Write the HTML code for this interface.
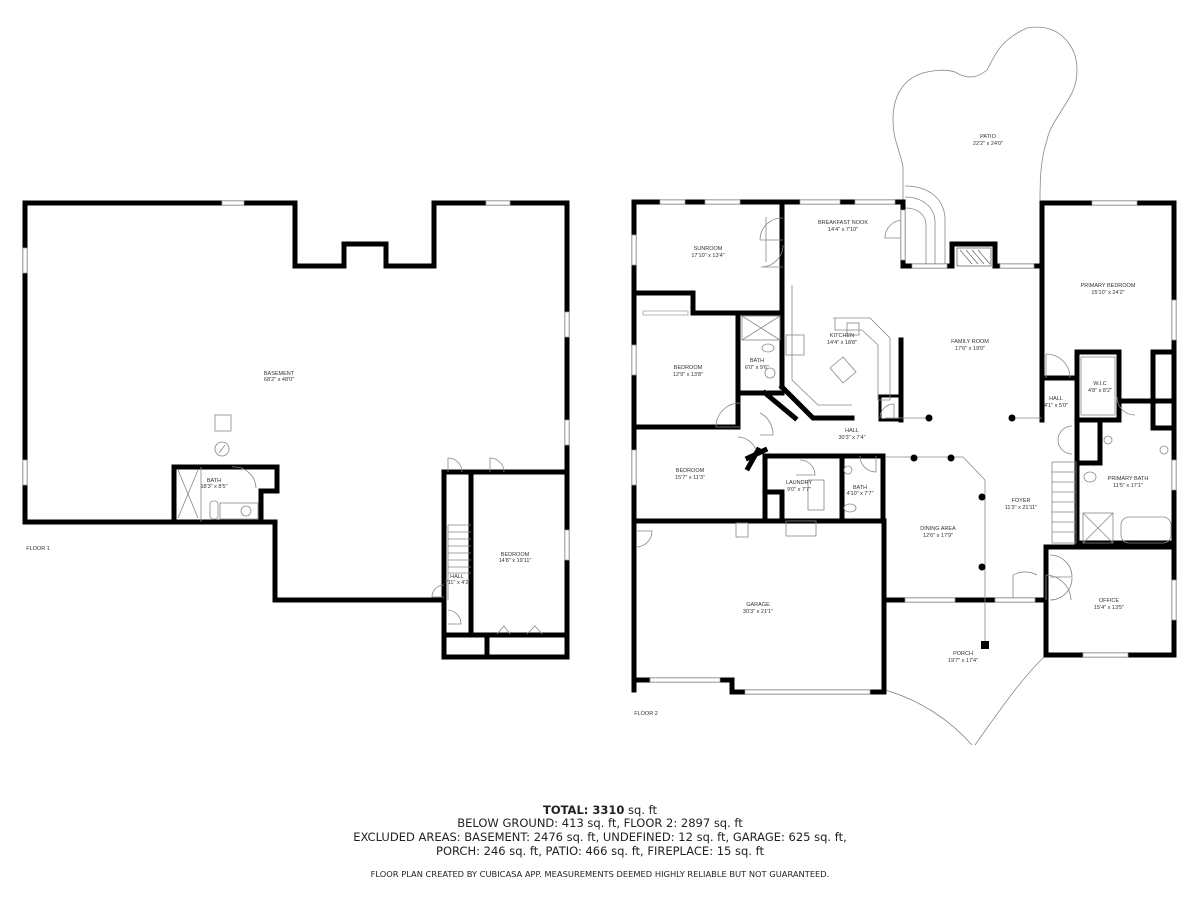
<!DOCTYPE html>
<html><head><meta charset="utf-8"><style>
html,body{margin:0;padding:0;background:#fff}
svg{display:block}
.w{fill:none;stroke:#000;stroke-width:5;stroke-linejoin:miter;stroke-linecap:square}
.t{fill:none;stroke:#888;stroke-width:0.8}
.l{font-family:"Liberation Sans",sans-serif;font-size:5.5px;fill:#333;text-anchor:middle}
.win{fill:#fff;stroke:#999;stroke-width:0.7}
.dot{fill:#000}
</style></head><body>
<svg width="1200" height="900" viewBox="0 0 1200 900" xmlns="http://www.w3.org/2000/svg">
<!-- FLOOR 1 -->
<polyline class="w" points="25,522 25,203 295,203 295,266 344,266 344,244 386,244 386,266 434,266 434,203 567,203 567,472"/>
<polyline class="w" points="25,522 275,522 275,600 444,600"/>
<rect class="w" x="444" y="472" width="123" height="185"/>
<line class="w" x1="471" y1="472" x2="471" y2="634"/>
<line class="w" x1="444" y1="635" x2="567" y2="635"/>
<line class="w" x1="487" y1="635" x2="487" y2="657"/>
<polyline class="w" points="174,522 174,467 277,467 277,491 261,491 261,522"/>
<line class="t" x1="201" y1="467" x2="201" y2="522"/>
<line class="t" x1="178" y1="470" x2="198" y2="518"/><line class="t" x1="198" y1="470" x2="178" y2="518"/>
<rect class="t" x="215" y="415" width="16" height="16"/>
<circle class="t" cx="222" cy="449" r="7"/>
<line class="t" x1="219" y1="453" x2="225" y2="445"/>
<rect class="t" x="210" y="501" width="8" height="18" rx="3"/>
<rect class="t" x="220" y="503" width="38" height="16"/>
<circle class="t" cx="246" cy="511" r="5"/>
<path class="t" d="M232,467 A22,22 0 0 1 256,488"/>
<path class="t" d="M448,472 L448,458 A14,14 0 0 1 462,472"/>
<path class="t" d="M490,472 L490,458 A14,14 0 0 1 504,472"/>
<g class="t"><line x1="448" y1="525" x2="471" y2="525"/>
<line x1="448" y1="532" x2="471" y2="532"/><line x1="448" y1="539" x2="471" y2="539"/><line x1="448" y1="546" x2="471" y2="546"/><line x1="448" y1="553" x2="471" y2="553"/><line x1="448" y1="560" x2="471" y2="560"/><line x1="448" y1="567" x2="471" y2="567"/><line x1="448" y1="573" x2="471" y2="573"/><line x1="448" y1="525" x2="448" y2="600"/></g>
<path class="t" d="M444,597 L432,597 A12,12 0 0 1 444,585"/>
<path class="t" d="M448,610 A14,14 0 0 1 461,624 L448,624"/>
<path class="t" d="M497,634 L504,626 L510,634 M527,634 L535,626 L542,634"/>
<g class="win"><rect x="222" y="201" width="22" height="4"/><rect x="486" y="201" width="24" height="4"/><rect x="23" y="248" width="4" height="25"/><rect x="23" y="460" width="4" height="25"/><rect x="565" y="312" width="4" height="25"/><rect x="565" y="420" width="4" height="25"/><rect x="565" y="530" width="4" height="30"/></g>
<text class="l" x="279" y="375">BASEMENT</text><text class="l" x="279" y="381">68'2" x 48'0"</text>
<text class="l" x="214" y="482">BATH</text><text class="l" x="214" y="488">18'3" x 8'5"</text>
<text class="l" x="515" y="556">BEDROOM</text><text class="l" x="515" y="562">14'8" x 19'11"</text>
<text class="l" x="457" y="578">HALL</text><text class="l" x="457" y="584">2'11" x 4'2"</text>
<text class="l" x="38" y="550">FLOOR 1</text>

<!-- PATIO -->
<path class="t" d="M903,200 L903,167 C900,150 893,140 893,120 C893,100 900,80 923,73 C935,70 945,69 955,72 C965,78 975,80 987,70 C995,55 1000,40 1027,28 C1045,25 1060,30 1070,45 C1080,60 1078,80 1072,93 C1060,115 1050,125 1047,140 C1042,155 1040,170 1040,200"/>
<path class="t" d="M905,186 C930,186 945,200 945,220 L945,265 M905,197 C922,197 935,207 935,222 L935,265 M905,208 C918,208 926,215 926,225 L926,265"/>
<!-- PORCH curves -->
<path class="t" d="M885,690 C920,700 950,720 972,745"/>
<path class="t" d="M1046,655 C1020,680 1000,710 975,745"/>

<!-- FLOOR 2 walls -->
<polyline class="w" points="903,202 634,202 634,690"/>
<polyline class="w" points="903,202 903,266 952,266 952,244 995,244 995,266 1042,266"/>
<polyline class="w" points="1042,420 1042,203 1174,203 1174,655 1046,655 1046,547 1174,547"/>
<polyline class="w" points="634,680 732,680 732,692 884,692 884,521 634,521"/>
<line class="w" x1="884" y1="600" x2="1046" y2="600"/>
<line class="w" x1="782" y1="202" x2="782" y2="387"/>
<polyline class="w" points="634,293 693,293 693,313 782,313"/>
<line class="w" x1="738" y1="313" x2="738" y2="427"/>
<line class="w" x1="634" y1="427" x2="738" y2="427"/>
<line class="w" x1="738" y1="393" x2="782" y2="393"/>
<polyline class="w" points="782,387 813,418 852,418"/>
<line class="w" x1="765" y1="393" x2="795" y2="418"/>
<polyline class="w" points="758,450 748,468"/>
<line class="w" x1="748" y1="458" x2="765" y2="450"/>
<polyline class="w" points="765,521 765,456 883,456"/>
<line class="w" x1="842" y1="456" x2="842" y2="521"/>
<line class="w" x1="883" y1="456" x2="883" y2="521"/>
<line class="w" x1="765" y1="492" x2="782" y2="492"/><line class="w" x1="782" y1="492" x2="782" y2="521"/>
<line class="w" x1="901" y1="340" x2="901" y2="420"/>
<rect class="w" x="880" y="396" width="21" height="24" style="stroke-width:3"/>
<line class="w" x1="1042" y1="378" x2="1075" y2="378"/>
<rect class="w" x="1077" y="352" width="42" height="68"/>
<line class="w" x1="1077" y1="420" x2="1077" y2="543"/>
<line class="w" x1="1100" y1="420" x2="1100" y2="463"/>
<line class="w" x1="1077" y1="463" x2="1100" y2="463"/>
<polyline class="w" points="1153,401 1153,352 1174,352"/>
<line class="w" x1="1119" y1="401" x2="1174" y2="401"/>
<line class="w" x1="1153" y1="401" x2="1153" y2="428"/>
<line class="w" x1="1153" y1="428" x2="1174" y2="428"/>
<line class="w" x1="1077" y1="543" x2="1174" y2="543"/>
<!-- details -->
<g class="t">
<line x1="885" y1="418" x2="926" y2="418"/><line x1="1016" y1="418" x2="1042" y2="418"/>
<polyline points="885,457 963,457 985,480 985,600"/>
<rect x="1052" y="462" width="24" height="81"/>
<line x1="1052" y1="472" x2="1076" y2="472"/><line x1="1052" y1="482" x2="1076" y2="482"/><line x1="1052" y1="492" x2="1076" y2="492"/><line x1="1052" y1="502" x2="1076" y2="502"/><line x1="1052" y1="512" x2="1076" y2="512"/><line x1="1052" y1="522" x2="1076" y2="522"/><line x1="1052" y1="532" x2="1076" y2="532"/>
<polygon points="833,318 870,318 890,338 890,400 878,400 878,345 862,330 835,330 835,318"/>
<rect x="847" y="323" width="12" height="12"/>
<polygon points="830,368 843,357 856,372 843,383"/>
<polyline points="792,285 792,380 818,405 852,405"/>
<rect x="786" y="335" width="18" height="20"/>
<rect x="1081" y="357" width="34" height="58"/>
<rect x="1083" y="513" width="30" height="30"/><line x1="1083" y1="513" x2="1113" y2="543"/><line x1="1113" y1="513" x2="1083" y2="543"/>
<rect x="1121" y="517" width="50" height="26" rx="8"/>
<rect x="742" y="316" width="38" height="24"/><line x1="742" y1="316" x2="780" y2="340"/><line x1="780" y1="316" x2="742" y2="340"/>
<circle cx="770" cy="373" r="5"/><ellipse cx="768" cy="348" rx="6" ry="4"/>
<circle cx="848" cy="470" r="4"/><ellipse cx="850" cy="508" rx="6" ry="4"/>
<rect x="808" y="480" width="16" height="30"/>
<rect x="736" y="523" width="12" height="14"/>
<rect x="786" y="521" width="30" height="15"/>
<circle cx="1108" cy="440" r="4"/><circle cx="1164" cy="450" r="4"/><ellipse cx="1090" cy="477" rx="6" ry="5"/>
<path d="M740,427 L716,427 A24,24 0 0 1 740,403"/>
<path d="M766,217 L766,262 M783,240 L760,240 A22,22 0 0 1 783,218"/>
<path d="M783,245 A22,22 0 0 1 761,267 L783,267"/>
<path d="M903,215 L903,260 M903,238 L885,238 A18,18 0 0 1 903,220"/>
<path d="M1046,600 L1046,575 A26,26 0 0 1 1071,600"/>
<path d="M1050,555 A22,22 0 0 1 1072,577 L1050,577 M1050,600 A22,22 0 0 0 1072,578"/>
<path d="M1046,378 L1046,354 A24,24 0 0 1 1070,378"/>
<path d="M1013,600 L1013,575 A25,25 0 0 1 1037,575"/>
<path d="M636,531 L652,531 A16,16 0 0 1 636,547"/>
<path d="M760,413 A24,24 0 0 1 773,435 L760,435"/>
<path d="M738,437 A20,20 0 0 1 756,450"/>
<path d="M796,475 L815,475 A15,15 0 0 0 800,460"/>
<path d="M860,456 A16,16 0 0 0 876,472 L876,456"/>
<path d="M1117,397 A18,18 0 0 0 1135,415"/>
<path d="M1058,440 A14,14 0 0 1 1072,426 M1058,440 A14,14 0 0 0 1072,454"/>
<path d="M880,418 A14,14 0 0 1 894,404 L894,418"/>
</g>
<g class="dot"><circle cx="929" cy="418" r="3.5"/><circle cx="1012" cy="418" r="3.5"/><circle cx="914" cy="458" r="3.5"/><circle cx="951" cy="458" r="3.5"/><circle cx="982" cy="497" r="3.5"/><circle cx="982" cy="567" r="3.5"/><rect x="981" y="641" width="8" height="8"/></g>
<line class="t" x1="985" y1="600" x2="985" y2="641"/>
<!-- fireplace hatch -->
<rect x="957" y="248" width="34" height="18" fill="none" stroke="#555" stroke-width="0.7"/>
<path d="M960,250 L972,264 M966,250 L978,264 M972,250 L984,264 M978,250 L990,264" stroke="#555" stroke-width="0.6"/>
<!-- windows floor 2 -->
<g class="win"><rect x="660" y="200" width="25" height="4"/><rect x="705" y="200" width="35" height="4"/><rect x="800" y="200" width="40" height="4"/><rect x="855" y="200" width="40" height="4"/><rect x="1092" y="201" width="45" height="4"/><rect x="912" y="264" width="35" height="4"/><rect x="1000" y="264" width="34" height="4"/>
<rect x="632" y="235" width="4" height="30"/><rect x="632" y="345" width="4" height="30"/><rect x="632" y="450" width="4" height="35"/><rect x="901" y="210" width="4" height="50"/>
<rect x="1172" y="300" width="4" height="40"/><rect x="1172" y="460" width="4" height="30"/><rect x="1172" y="580" width="4" height="40"/>
<rect x="643" y="311" width="45" height="4"/><rect x="1083" y="653" width="45" height="4"/><rect x="650" y="678" width="70" height="4"/><rect x="745" y="690" width="125" height="4"/>
<rect x="905" y="598" width="50" height="4"/><rect x="995" y="598" width="40" height="4"/></g>
<!-- labels floor 2 -->
<text class="l" x="708" y="250">SUNROOM</text><text class="l" x="708" y="257">17'10" x 13'4"</text>
<text class="l" x="843" y="224">BREAKFAST NOOK</text><text class="l" x="843" y="231">14'4" x 7'10"</text>
<text class="l" x="842" y="337">KITCHEN</text><text class="l" x="842" y="344">14'4" x 18'8"</text>
<text class="l" x="688" y="369">BEDROOM</text><text class="l" x="688" y="376">12'9" x 13'8"</text>
<text class="l" x="757" y="362">BATH</text><text class="l" x="757" y="369">6'0" x 9'6"</text>
<text class="l" x="970" y="343">FAMILY ROOM</text><text class="l" x="970" y="350">17'6" x 19'0"</text>
<text class="l" x="1108" y="287">PRIMARY BEDROOM</text><text class="l" x="1108" y="294">15'10" x 24'2"</text>
<text class="l" x="1100" y="385">W.I.C</text><text class="l" x="1100" y="392">4'8" x 8'2"</text>
<text class="l" x="1056" y="400">HALL</text><text class="l" x="1056" y="407">4'1" x 5'0"</text>
<text class="l" x="852" y="432">HALL</text><text class="l" x="852" y="439">30'3" x 7'4"</text>
<text class="l" x="690" y="472">BEDROOM</text><text class="l" x="690" y="479">15'7" x 11'3"</text>
<text class="l" x="799" y="484">LAUNDRY</text><text class="l" x="799" y="491">9'0" x 7'7"</text>
<text class="l" x="860" y="489">BATH</text><text class="l" x="860" y="495">4'10" x 7'7"</text>
<text class="l" x="1128" y="480">PRIMARY BATH</text><text class="l" x="1128" y="487">11'5" x 17'1"</text>
<text class="l" x="1021" y="502">FOYER</text><text class="l" x="1021" y="509">11'3" x 21'11"</text>
<text class="l" x="938" y="530">DINING AREA</text><text class="l" x="938" y="537">12'6" x 17'9"</text>
<text class="l" x="758" y="606">GARAGE</text><text class="l" x="758" y="613">30'3" x 21'1"</text>
<text class="l" x="1109" y="602">OFFICE</text><text class="l" x="1109" y="609">15'4" x 13'5"</text>
<text class="l" x="963" y="655">PORCH</text><text class="l" x="963" y="662">19'7" x 17'4"</text>
<text class="l" x="988" y="138">PATIO</text><text class="l" x="988" y="145">22'2" x 24'0"</text>
<text class="l" x="646" y="715">FLOOR 2</text>
<!-- bottom text -->
<g font-family="DejaVu Sans, sans-serif" font-size="11.5" fill="#222" text-anchor="middle">
<text x="600" y="814"><tspan font-weight="bold">TOTAL: 3310</tspan> sq. ft</text>
<text x="600" y="827">BELOW GROUND: 413 sq. ft, FLOOR 2: 2897 sq. ft</text>
<text x="600" y="841">EXCLUDED AREAS: BASEMENT: 2476 sq. ft, UNDEFINED: 12 sq. ft, GARAGE: 625 sq. ft,</text>
<text x="600" y="855">PORCH: 246 sq. ft, PATIO: 466 sq. ft, FIREPLACE: 15 sq. ft</text>
<text x="600" y="877" font-size="8.3">FLOOR PLAN CREATED BY CUBICASA APP. MEASUREMENTS DEEMED HIGHLY RELIABLE BUT NOT GUARANTEED.</text>
</g>
</svg>
</body></html>
